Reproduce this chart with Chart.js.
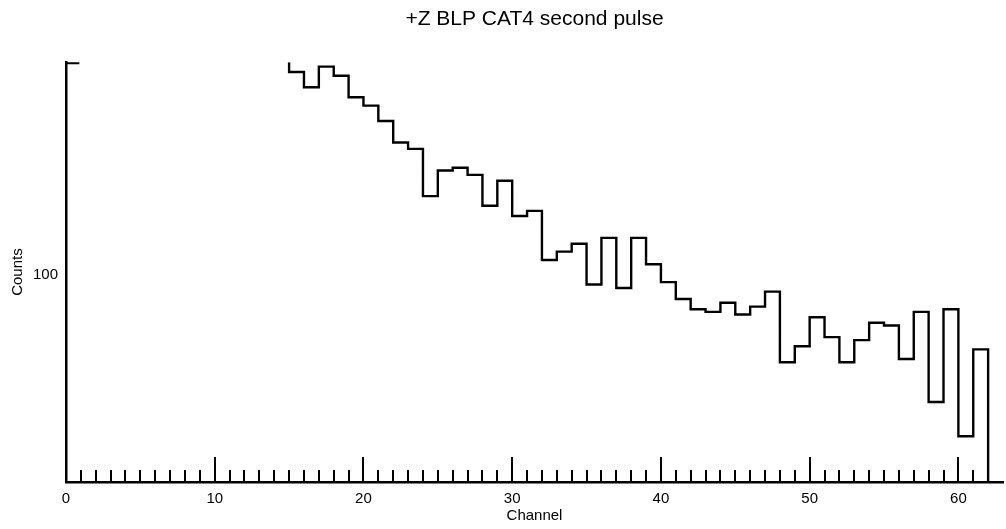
<!DOCTYPE html>
<html>
<head>
<meta charset="utf-8">
<script src="https://cdn.jsdelivr.net/npm/chart.js@4/dist/chart.umd.min.js"></script>
<style>
  html, body { margin: 0; padding: 0; background: #fff; }
  #wrap { width: 1006px; height: 529px; }
</style>
</head>
<body>
<div id="wrap"><canvas id="histo"></canvas></div>
<script>
// histogram data: counts per channel, starting at firstChannel
const firstChannel = 15;
const counts = [246, 230, 252, 242, 220, 212, 198, 180, 175, 142,
                159, 161, 156, 136, 152, 130, 133, 107, 111, 115,
                96, 118, 94.5, 118, 105, 97, 90, 86, 85, 88.5,
                84, 87, 93, 68, 73, 83, 76, 68, 75, 81,
                80, 69, 85, 57, 86, 49, 72];
// channel 0 is off scale (drawn clipped at the top)
const overflowChannel = 0;

const xTickLabels = [0, 10, 20, 30, 40, 50, 60];
const yTickLabels = [100];
const xMin = 0, xMax = 63;
const yMin = 40, yMax = 257;

// build stepped points: vertical first at each edge, then across the bin
const histPoints = [{ x: firstChannel, y: yMax }];
counts.forEach((c, i) => {
  histPoints.push({ x: firstChannel + i, y: c });
  histPoints.push({ x: firstChannel + i + 1, y: c });
});
histPoints.push({ x: firstChannel + counts.length, y: yMin });

const overflowPoints = [
  { x: overflowChannel, y: yMax },
  { x: overflowChannel + 0.9, y: yMax }
];

// little tick marks drawn inside the plot, up from the x axis
const insideTicks = {
  id: 'insideTicks',
  afterDatasetsDraw(chart) {
    const { ctx, scales: { x } } = chart;
    const base = chart.chartArea.bottom;
    ctx.save();
    ctx.strokeStyle = '#000';
    ctx.lineWidth = 2;
    for (let v = 1; v < xMax; v++) {
      const px = Math.round(x.getPixelForValue(v));
      const len = v % 10 === 0 ? 25 : 12;
      ctx.beginPath();
      ctx.moveTo(px, base);
      ctx.lineTo(px, base - len);
      ctx.stroke();
    }
    ctx.restore();
  }
};

const font = { family: "'Liberation Sans', Arial, sans-serif", size: 15 };

new Chart(document.getElementById('histo'), {
  type: 'line',
  data: {
    datasets: [{
      data: histPoints,
      borderColor: '#000',
      borderWidth: 2.4,
      pointRadius: 0,
      fill: false
    }, {
      data: overflowPoints,
      borderColor: '#000',
      borderWidth: 4,
      pointRadius: 0,
      fill: false
    }]
  },
  options: {
    responsive: true,
    maintainAspectRatio: false,
    animation: false,
    layout: { padding: { left: 0, right: 3, top: 0, bottom: 0 } },
    plugins: {
      legend: { display: false },
      tooltip: { enabled: false },
      title: {
        display: true,
        fullSize: false, // centre over the plot area, not the whole canvas
        text: '+Z BLP CAT4 second pulse',
        color: '#000',
        font: { family: font.family, size: 21, weight: 'normal' },
        padding: { top: 7, bottom: 30 }
      }
    },
    scales: {
      x: {
        type: 'linear',
        min: xMin,
        max: xMax,
        afterBuildTicks: (s) => { s.ticks = xTickLabels.map(v => ({ value: v })); },
        afterFit: (s) => { s.height = 47; },
        grid: { display: false, drawTicks: false },
        border: { display: true, color: '#000', width: 2.5 },
        ticks: { color: '#000', font: font, padding: 8, maxRotation: 0, autoSkip: false },
        title: { display: true, text: 'Channel', color: '#000', font: font, padding: { top: 0, bottom: 4 } }
      },
      y: {
        type: 'logarithmic',
        min: yMin,
        max: yMax,
        afterBuildTicks: (s) => { s.ticks = yTickLabels.map(v => ({ value: v })); },
        afterFit: (s) => { s.width = 66; },
        grid: { display: false, drawTicks: false },
        border: { display: true, color: '#000', width: 2.5 },
        ticks: { color: '#000', font: font, padding: 8, callback: (v) => String(v) },
        title: { display: true, text: 'Counts', color: '#000', font: font, padding: { top: 9, bottom: 0 } }
      }
    }
  },
  plugins: [insideTicks]
});
</script>
</body>
</html>
